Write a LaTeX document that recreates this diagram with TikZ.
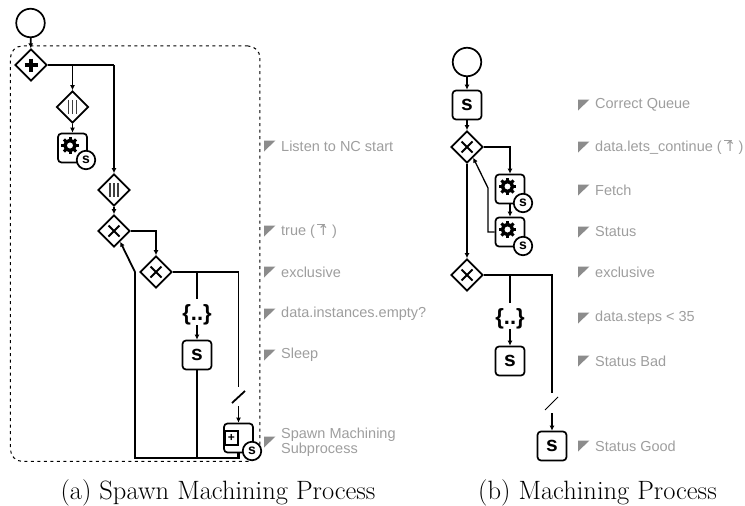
\documentclass[tikz,border=0pt]{standalone}
\usepackage{fontspec}
\setmainfont{Liberation Sans}
\newfontfamily\capfont{Latin Modern Roman}
\newfontfamily\symfont{DejaVu Sans}
\usetikzlibrary{shapes.geometric,arrows.meta,calc}
\newcommand{\up}{\rlap{\rule[10.8pt]{7.6pt}{.6pt}}{\symfont\char"2191}}
\begin{document}
\begin{tikzpicture}[x=1pt,y=-1pt,>={Latex[length=5pt,width=5pt]},
			flow/.style={line width=1.8pt},
			heavy flow/.style={line width=2.3pt},
			start node/.style={circle,draw,line width=1.7pt,fill=white,minimum size=28.5pt,inner sep=0},
			gate node/.style={diamond,draw,line width=1.7pt,fill=white,minimum size=32pt,inner sep=0},
			plus node/.style={gate node,path picture={
				\draw[line width=3.4pt] (path picture bounding box.center) +(-6.5,0) -- +(6.5,0) +(0,-6.5) -- +(0,6.5);}},
			xor node/.style={gate node,path picture={
				\draw[line width=2pt] (path picture bounding box.center) +(-5.5,-5.5) -- +(5.5,5.5) +(-5.5,5.5) -- +(5.5,-5.5);}},
			par node/.style={gate node,path picture={
				\draw[line width=1.2pt,black!75] (path picture bounding box.center) +(-4,-7) -- +(-4,7) +(0,-7) -- +(0,7) +(4,-7) -- +(4,7);}},
			task node/.style={rectangle,rounded corners=3.5pt,draw,line width=1.7pt,fill=white,minimum size=29pt,inner sep=0},
			script node/.style={task node,font=\fontsize{21}{21}\selectfont\bfseries},
			gear node/.style={task node,path picture={
				\coordinate (g) at ($(path picture bounding box.center)+(-2.5,-2.5)$);
				\foreach \a in {0,45,...,135}
					\draw[line width=3pt] (g) +(\a:8.6) -- +(\a+180:8.6);
				\draw[line width=3.5pt,fill=white] (g) circle (5pt);}},
			badge node/.style={circle,draw,line width=1.7pt,fill=white,minimum size=18.5pt,inner sep=0,font=\fontsize{14}{14}\selectfont\bfseries},
			sub node/.style={rectangle,rounded corners=12pt,draw,line width=1pt,dash pattern=on 3pt off 3.5pt,minimum width=249.5pt,minimum height=415.5pt,inner sep=0},
			expr node/.style={inner sep=0,font=\fontsize{22}{22}\selectfont\bfseries},
			note node/.style={anchor=west,inner sep=0,text=black!38,font=\fontsize{14.5}{11}\selectfont,align=left},
			cap node/.style={anchor=base,inner sep=0,font=\capfont\fontsize{26.5}{30}\selectfont}
			]
			\useasboundingbox (0,0) rectangle (745,506);

			% left process
			\node[sub node] (sub) at (135.2,253.7) {};
			\node[start node] (a0) at (30.5,23) {};
			\node[plus node] (a1) at (31,65) {};
			\node[par node] (a2) at (72.5,107) {};
			\node[gear node] (a3) at (72.5,148) {};
			\node[badge node] (a3s) at (86,160) {s};
			\node[par node] (a4) at (114,190) {};
			\node[xor node] (a5) at (114,231) {};
			\node[xor node] (a6) at (156,272) {};
			\node[expr node] (a7) at (197,315) {\{..\}};
			\node[script node] (a8) at (197,355) {s};
			\node[task node] (a9) at (238.5,438) {};
			\node[rectangle,draw,line width=1.4pt,fill=white,minimum width=13pt,minimum height=14pt,inner sep=0,font=\fontsize{12}{12}\selectfont\bfseries] (a9i) at (231.5,438) {+};
			\node[badge node] (a9s) at (252,451) {s};

			\coordinate (a1j) at (72.5,65);
			\coordinate (a1k) at (114,65);
			\coordinate (a6j) at (197,272);
			\coordinate (a6k) at (238.5,272);
			\coordinate (a7t) at (197,299);
			\coordinate (a9t) at (238.5,387);
			\coordinate (a9b) at (238.5,406);
			\coordinate (s1) at (232,403);
			\coordinate (s2) at (245,391);
			\coordinate (r1) at (135,272);
			\coordinate (r2) at (135,458);
			\coordinate (r3) at (197,458);

			\draw[->,flow] (a0) -- (a1);
			\draw[flow] (a1) -- (a1k);
			\draw[->,flow] (a1j) -- (a2);
			\draw[->,flow] (a2) -- (a3);
			\draw[->,flow] (a1k) -- (a4);
			\draw[->,flow] (a4) -- (a5);
			\draw[->,flow] (a5) -| (a6);
			\draw[flow] (a6) -- (a6k) -- (a9t);
			\draw[flow] (a6j) -- (a7t);
			\draw[->,flow] (a7) -- (a8);
			\draw[flow] (s1) -- (s2);
			\draw[->,flow] (a9b) -- (a9);
			\draw[flow] (a8) -- (r3);
			\draw[heavy flow] (a9) |- (r2) -- (r1);
			\draw[->,flow] (r1) -- (a5.-60);

			% right process
			\node[start node] (b0) at (467,62) {};
			\node[script node] (b1) at (467,105) {s};
			\node[xor node] (b2) at (467,147) {};
			\node[gear node] (b3) at (510,189) {};
			\node[badge node] (b3s) at (523,203) {s};
			\node[gear node] (b4) at (510,232) {};
			\node[badge node] (b4s) at (523,246) {s};
			\node[xor node] (b5) at (467,275) {};
			\node[expr node] (b6) at (510,319) {\{..\}};
			\node[script node] (b7) at (510,361) {s};
			\node[script node] (b8) at (552,446) {s};

			\coordinate (b4l) at (488,232);
			\coordinate (b4u) at (488,188);
			\coordinate (b5j) at (510,275);
			\coordinate (b5k) at (552,275);
			\coordinate (b6t) at (510,303);
			\coordinate (b8t) at (552,393);
			\coordinate (b8b) at (552,413);
			\coordinate (t1) at (545,410);
			\coordinate (t2) at (558,397);

			\draw[->,flow] (b0) -- (b1);
			\draw[->,flow] (b1) -- (b2);
			\draw[->,flow] (b2) -| (b3);
			\draw[->,flow] (b3) -- (b4);
			\draw[->,line width=1.3pt] (b4) -- (b4l) -- (b4u) -- (b2.-60);
			\draw[->,flow] (b2) -- (b5);
			\draw[flow] (b5) -- (b5k) -- (b8t);
			\draw[flow] (b5j) -- (b6t);
			\draw[->,flow] (b6) -- (b7);
			\draw[line width=.9pt] (t1) -- (t2);
			\draw[->,flow] (b8b) -- (b8);

			% notes
			\foreach \n/\x/\y/\t in {
				n1/264/146/{Listen to NC start},
				n2/264/231/{true (\,\up\,)},
				n3/264/272/{exclusive},
				n4/264/314/{data.instances.empty?},
				n5/264/355/{Sleep},
				n6/264/442/{Spawn Machining\\Subprocess},
				m1/578/105/{Correct Queue},
				m2/578/147/{data.lets\_continue (\,\up\,)},
				m3/578/190/{Fetch},
				m4/578/232/{Status},
				m5/578/272/{exclusive},
				m6/578/318/{data.steps < 35},
				m7/578/361/{Status Bad},
				m8/578/446/{Status Good}}
			{
				\fill[black!45] (\x,\y) +(0,-5.5) -- +(11.5,-5.5) -- +(0,5.5) -- cycle;
				\node[note node] (\n) at (\x+17,\y) {\t};
			}

			\node[cap node] (capa) at (218,499) {(a) Spawn Machining Process};
			\node[cap node] (capb) at (597.5,499) {(b) Machining Process};
		\end{tikzpicture}
\end{document}
